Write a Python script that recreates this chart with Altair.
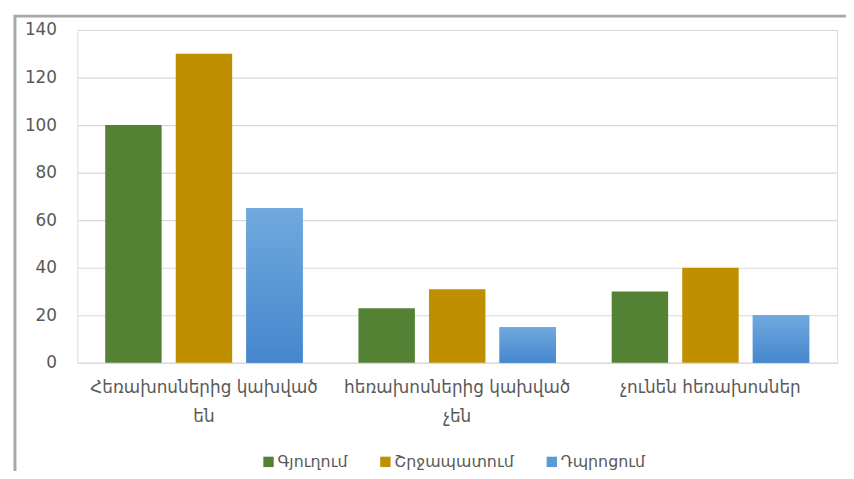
import altair as alt
import pandas as pd

categories = ["Հեռախոսներից կախված\nեն", "հեռախոսներից կախված\nչեն", "չունեն հեռախոսներ"]
series = ["Գյուղում", "Շրջապատում", "Դպրոցում"]
village = [100, 23, 30]
surroundings = [130, 31, 40]
school = [65, 15, 20]
colors = ["#548235", "#BF8F00", "#5B9BD5"]
y_ticks = [0, 20, 40, 60, 80, 100, 120, 140]

rows = []
for i, c in enumerate(categories):
    for s, vals in zip(series, [village, surroundings, school]):
        rows.append({"category": c, "series": s, "value": vals[i]})
df = pd.DataFrame(rows)

FONT = "DejaVu Sans"
TXT = "#595959"

x_enc = alt.X(
    "category:N", sort=categories,
    scale=alt.Scale(paddingInner=0.22, paddingOuter=0.11),
    axis=alt.Axis(title=None, labelAngle=0, labelExpr="split(datum.label, '\\n')",
                  labelFont=FONT, labelFontSize=17, labelColor=TXT, labelPadding=17,
                  labelLimit=400, ticks=False, domainColor="#d9d9d9", domainWidth=1.2,
                  labelLineHeight=29),
)
xo_enc = alt.XOffset("series:N", sort=series,
                     scale=alt.Scale(domain=series, paddingInner=0.2, paddingOuter=0))
y_enc = alt.Y(
    "value:Q",
    scale=alt.Scale(domain=[0, 140], nice=False),
    axis=alt.Axis(title=None, values=y_ticks, labelFont=FONT, labelFontSize=17,
                  labelColor=TXT, labelPadding=21, ticks=False, domain=False,
                  gridColor="#d9d9d9", gridWidth=1.2),
)

frame = alt.Chart(alt.InlineData(values=[{"a": 1}])).mark_rect(
    fillOpacity=0, stroke="#a8a8a8", strokeWidth=3
).encode(x=alt.value(-63), x2=alt.value(800), y=alt.value(-14), y2=alt.value(480))

bars = alt.Chart(df).mark_bar().encode(
    x=x_enc, xOffset=xo_enc, y=y_enc,
    color=alt.Color("series:N", sort=series,
                    scale=alt.Scale(domain=series, range=colors),
                    legend=alt.Legend(title=None, orient="none", direction="horizontal",
                                      legendX=185, legendY=428, symbolType="square",
                                      symbolSize=110, symbolStrokeWidth=0,
                                      labelFont=FONT, labelFontSize=16, labelColor=TXT,
                                      labelLimit=300, columnPadding=30, labelOffset=1)),
)

grad = alt.LinearGradient(
    gradient="linear", x1=0, y1=0, x2=0, y2=1,
    stops=[alt.GradientStop(offset=0, color="#70A9DE"),
           alt.GradientStop(offset=1, color="#4586CD")],
)
blue = alt.Chart(df).transform_filter(
    alt.datum.series == series[2]
).mark_bar(color=grad).encode(x=x_enc, xOffset=xo_enc, y=y_enc)

chart = alt.layer(frame, bars, blue).properties(
    width=767, height=336,
    autosize=alt.AutoSizeParams(type="none"),
    padding={"left": 70, "top": 20, "right": 9, "bottom": 107},
).configure_view(stroke=None).configure(background="white")

chart.save("out.html", embed_options={"renderer": "svg", "actions": False})
